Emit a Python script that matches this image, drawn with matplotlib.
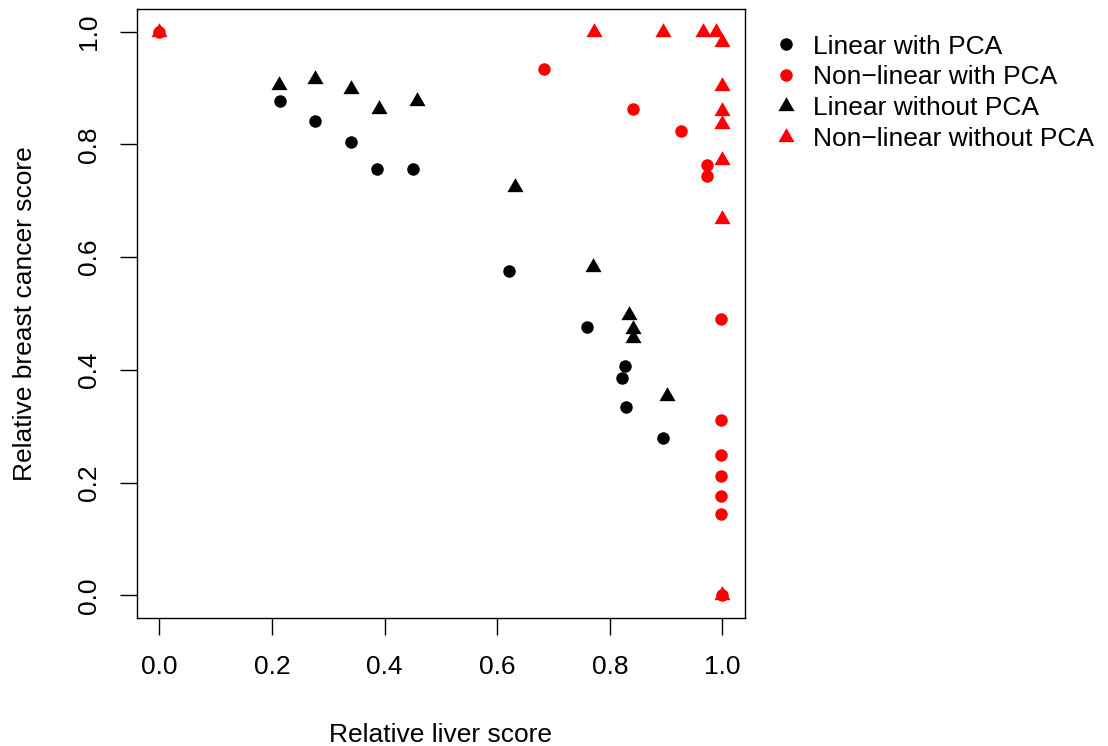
import matplotlib
matplotlib.use("Agg")
import matplotlib.pyplot as plt
from matplotlib.path import Path
import numpy as np

plt.rcParams['font.family'] = ['Liberation Sans', 'DejaVu Sans']

# ---- data ----
lin_pca_x = [0.215, 0.276, 0.341, 0.386, 0.450, 0.621, 0.760, 0.827, 0.822, 0.829, 0.894]
lin_pca_y = [0.876, 0.842, 0.805, 0.756, 0.757, 0.576, 0.476, 0.407, 0.385, 0.335, 0.280]

nl_pca_x = [0.0, 0.683, 0.842, 0.927, 0.973, 0.973, 0.998, 0.998, 0.998, 0.998, 0.998, 0.998, 1.0]
nl_pca_y = [1.0, 0.934, 0.862, 0.823, 0.763, 0.744, 0.490, 0.311, 0.249, 0.211, 0.176, 0.144, 0.0]

lin_nopca_x = [0.212, 0.277, 0.341, 0.390, 0.457, 0.632, 0.771, 0.834, 0.841, 0.841, 0.902]
lin_nopca_y = [0.906, 0.915, 0.898, 0.862, 0.877, 0.725, 0.583, 0.497, 0.473, 0.457, 0.354]

nl_nopca_x = [0.0, 0.772, 0.895, 0.965, 0.989, 1.0, 1.0, 1.0, 1.0, 1.0, 1.0, 1.0]
nl_nopca_y = [1.0, 1.0, 1.0, 1.0, 1.0, 0.981, 0.904, 0.860, 0.836, 0.772, 0.668, 0.0]

series_labels = ["Linear with PCA", "Non\u2212linear with PCA",
                 "Linear without PCA", "Non\u2212linear without PCA"]
ticks = [0.0, 0.2, 0.4, 0.6, 0.8, 1.0]
tick_labels = ["0.0", "0.2", "0.4", "0.6", "0.8", "1.0"]

# R-style triangle centred on centroid
tri = Path([(0, 1), (0.866, -0.5), (-0.866, -0.5), (0, 1)],
           [Path.MOVETO, Path.LINETO, Path.LINETO, Path.CLOSEPOLY])

FS = 19
fig = plt.figure(figsize=(11.08, 7.46), dpi=100)
ax = fig.add_axes([136.7 / 1108, 1 - 618 / 746, (745 - 136.7) / 1108, (618 - 9) / 746])

circ_ms = 9.0
tri_ms = 13.4
ax.plot(lin_pca_x, lin_pca_y, ls='none', marker='o', ms=circ_ms, mew=0, color='black', label=series_labels[0], clip_on=False)
ax.plot(nl_pca_x, nl_pca_y, ls='none', marker='o', ms=circ_ms, mew=0, color='#FF0000', label=series_labels[1], clip_on=False)
ax.plot(lin_nopca_x, lin_nopca_y, ls='none', marker=tri, ms=tri_ms, mew=0, color='black', label=series_labels[2], clip_on=False)
ax.plot(nl_nopca_x, nl_nopca_y, ls='none', marker=tri, ms=tri_ms, mew=0, color='#FF0000', label=series_labels[3], clip_on=False)

ax.set_xlim(-0.04, 1.04)
ax.set_ylim(-0.04, 1.04)
ax.set_xticks(ticks)
ax.set_xticklabels(tick_labels)
ax.set_yticks(ticks)
ax.set_yticklabels(tick_labels)
for s in ax.spines.values():
    s.set_linewidth(1.0)
ax.tick_params(axis='both', direction='out', length=12, width=1.0, labelsize=FS, color='black')
ax.tick_params(axis='x', pad=15)
ax.tick_params(axis='y', pad=14)
for lab in ax.get_yticklabels():
    lab.set_rotation(90)
    lab.set_va('center')
    lab.set_ha('right')

ax.set_xlabel("Relative liver score", fontsize=FS, va='center')
ax.xaxis.set_label_coords(0.5, (618 - 735) / 609)
ax.set_ylabel("Relative breast cancer score", fontsize=FS, va='center')
ax.yaxis.set_label_coords((25.4 - 136.7) / 608.3, 0.5)

leg = ax.legend(loc='upper left', bbox_to_anchor=(772.8 / 1108, 1 - 34.6 / 746),
                bbox_transform=fig.transFigure, frameon=False, fontsize=FS,
                handlelength=1.0, handletextpad=0.52, labelspacing=0.26,
                borderpad=0, borderaxespad=0, numpoints=1)

fig.savefig("out.png", dpi=100)
